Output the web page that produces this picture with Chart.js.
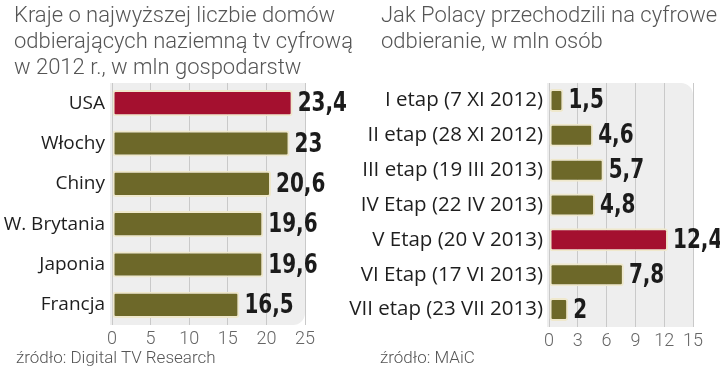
<!DOCTYPE html>
<html lang="pl">
<head>
  <meta charset="UTF-8">
  <title>Naziemna tv cyfrowa</title>
  <script src="https://cdn.jsdelivr.net/npm/chart.js"></script>
  <style>
    body { margin: 0; background: #fff; font-family: Roboto, sans-serif; }
    .wrap { position: relative; width: 720px; height: 371px; overflow: hidden; }
    .wrap canvas { position: absolute; top: 0; }
    .title { position: absolute; color: #555; font-size: 22px; font-weight: 300; line-height: 26px; white-space: nowrap; }
    .src { position: absolute; top: 347px; color: #555; font-size: 17px; font-weight: 300; }
  </style>
</head>
<body>
  <div class="wrap">
    <canvas id="countriesChart" width="360" height="371" style="left:0"></canvas>
    <canvas id="stagesChart" width="380" height="371" style="left:340px"></canvas>
    <div class="title" style="left:14px; top:2px">Kraje o najwyższej liczbie domów<br>odbierających naziemną tv cyfrową<br>w 2012 r., w mln gospodarstw</div>
    <div class="title" style="left:381px; top:2px">Jak Polacy przechodzili na cyfrowe<br>odbieranie, w mln osób</div>
    <div class="src" style="left:16px">źródło: Digital TV Research</div>
    <div class="src" style="left:380px">źródło: MAiC</div>
  </div>
  <script>
    // dane - lewy wykres
    const countries = ['USA', 'Włochy', 'Chiny', 'W. Brytania', 'Japonia', 'Francja'];
    const households = [23.4, 23, 20.6, 19.6, 19.6, 16.5];
    const countryTicks = [0, 5, 10, 15, 20, 25];
    const countryHighlight = 'USA';

    // dane - prawy wykres
    const stages = ['I etap (7 XI 2012)', 'II etap (28 XI 2012)', 'III etap (19 III 2013)', 'IV Etap (22 IV 2013)',
                    'V Etap (20 V 2013)', 'VI Etap (17 VI 2013)', 'VII etap (23 VII 2013)'];
    const people = [1.5, 4.6, 5.7, 4.8, 12.4, 7.8, 2];
    const stageTicks = [0, 3, 6, 9, 12, 15];
    const stageHighlight = 'V Etap (20 V 2013)';

    const RED = '#a4102f';
    const OLIVE = '#6d6829';

    Chart.defaults.font.family = 'Roboto, sans-serif';

    // szare tło pola wykresu
    const panelBg = {
      id: 'panelBg',
      beforeDraw(chart, args, opts) {
        const a = chart.chartArea, ctx = chart.ctx, r = 12;
        ctx.save();
        ctx.fillStyle = '#eeeeee';
        ctx.beginPath();
        ctx.roundRect(a.left - 2, a.top, a.right - a.left + 2, a.bottom - a.top,
          opts.corner === 'top' ? [0, r, 0, 0] : [0, 0, r, 0]);
        ctx.fill();
        ctx.restore();
      }
    };

    // etykiety wartości przy słupkach (pogrubione, zwężone)
    const valueLabels = {
      id: 'valueLabels',
      afterDatasetsDraw(chart) {
        const ctx = chart.ctx;
        const ds = chart.data.datasets[0];
        ctx.save();
        ctx.font = 'bold 27px "DejaVu Sans", sans-serif';
        ctx.fillStyle = '#1b1b1b';
        ctx.textBaseline = 'middle';
        chart.getDatasetMeta(0).data.forEach((bar, i) => {
          ctx.save();
          ctx.translate(bar.x + 5, bar.y + 1);
          ctx.scale(0.74, 1);
          ctx.fillText(String(ds.data[i]).replace('.', ','), 0, 0);
          ctx.restore();
        });
        ctx.restore();
      }
    };

    function makeChart(id, labels, values, ticks, highlight, opts) {
      new Chart(document.getElementById(id), {
        type: 'bar',
        data: {
          labels: labels,
          datasets: [{
            data: values,
            backgroundColor: labels.map(l => l === highlight ? RED : OLIVE),
            borderColor: '#efe8cc',
            borderWidth: 2,
            borderRadius: 3,
            borderSkipped: false,
            barPercentage: opts.bar,
            categoryPercentage: 1
          }]
        },
        options: {
          indexAxis: 'y',
          responsive: false,
          animation: false,
          layout: { padding: { top: opts.top, right: opts.right, left: 0, bottom: 0 } },
          plugins: { legend: { display: false }, tooltip: { enabled: false }, panelBg: { corner: opts.corner } },
          scales: {
            x: {
              min: ticks[0],
              max: ticks[ticks.length - 1],
              afterBuildTicks: axis => { axis.ticks = ticks.map(v => ({ value: v })); },
              afterFit: axis => { axis.height = opts.xh; },
              grid: { color: '#c9c9c9', lineWidth: 1, drawTicks: false },
              border: { display: false },
              ticks: { color: '#666', padding: 4, font: { size: 18, weight: 300 } }
            },
            y: {
              afterFit: axis => { axis.width = opts.yw; },
              grid: { display: false, drawTicks: false },
              border: { display: false },
              ticks: { color: '#1e1e1e', padding: opts.pad, font: { family: '"Open Sans", sans-serif', size: opts.fs } }
            }
          }
        },
        plugins: [panelBg, valueLabels]
      });
    }

    makeChart('countriesChart', countries, households, countryTicks, countryHighlight,
      { top: 83, right: 55, xh: 46, yw: 112, bar: 0.65, corner: 'bottom', fs: 19, pad: 7 });
    makeChart('stagesChart', stages, people, stageTicks, stageHighlight,
      { top: 83, right: 27, xh: 44, yw: 209, bar: 0.66, corner: 'top', fs: 20.5, pad: 6 });
  </script>
</body>
</html>
